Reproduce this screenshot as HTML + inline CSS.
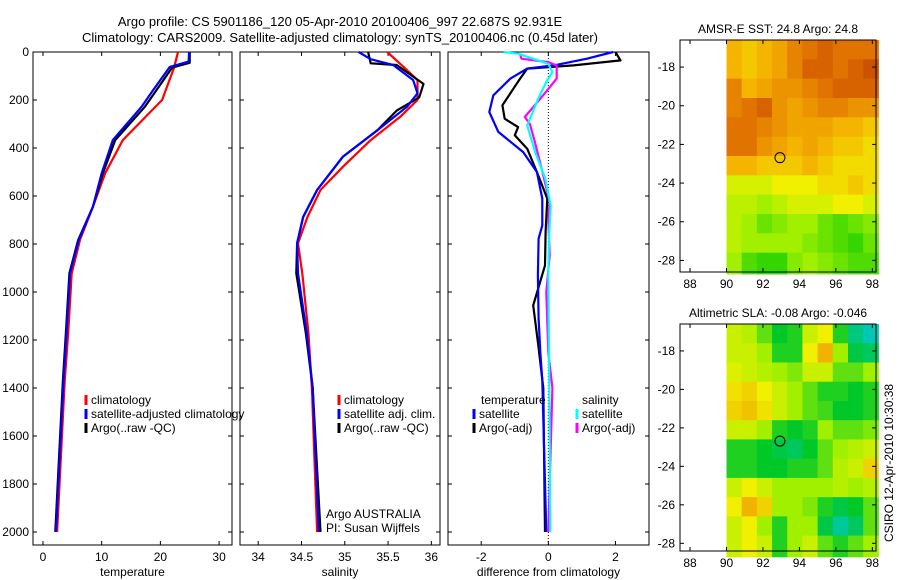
<!DOCTYPE html>
<html><head><meta charset="utf-8"><style>
html,body{margin:0;padding:0;background:#fff;}
svg{display:block;font-family:"Liberation Sans",sans-serif;}
text{font-size:12px;fill:#000;}
</style></head><body>
<svg id="fig" width="900" height="580" viewBox="0 0 900 580">
<text x="340" y="26" text-anchor="middle" style="font-size:13px">Argo profile: CS 5901186_120 05-Apr-2010 20100406_997 22.687S 92.931E</text>
<text x="340" y="42" text-anchor="middle" style="font-size:13px">Climatology: CARS2009. Satellite-adjusted climatology: synTS_20100406.nc (0.45d later)</text>
<text transform="translate(893,463) rotate(-90)" text-anchor="middle">CSIRO 12-Apr-2010 10:30:38</text>
</svg>
<script>
// ---- profile data (depth in dbar) ----
const tClimD=[0,30,67,200,367,505,645,783,922,1170,1370,2000];
const tClimV=[23,22.7,22.3,20.3,13.6,10.6,8.5,6.3,4.9,4.3,3.7,2.4];
const tSatD=[0,40,62,158,228,367,505,645,783,922,1170,1370,2000];
const tSatV=[24.9,24.8,21.6,18.8,16.8,11.9,10.0,8.5,6.1,4.6,4.0,3.5,2.2];
const tArgoD=[0,45,65,160,230,367,505,645,783,922,1170,1370,2000];
const tArgoV=[25.0,25.0,22.0,19.3,17.3,12.3,10.2,8.5,6.0,4.5,3.9,3.4,2.1];
const sClimD=[0,62,117,200,270,367,478,575,687,797,922,1170,1400,2000];
const sClimV=[35.49,35.68,35.84,35.84,35.64,35.3,34.98,34.72,34.57,34.46,34.51,34.58,34.62,34.68];
const sSatD=[0,30,54,117,172,228,325,436,575,687,797,922,1170,1400,2000];
const sSatV=[35.16,35.3,35.56,35.79,35.84,35.72,35.38,34.98,34.68,34.52,34.45,34.46,34.56,34.63,34.70];
const sArgoD=[0,47,54,133,189,244,325,436,575,687,797,922,1170,1400,2000];
const sArgoV=[35.27,35.3,35.6,35.91,35.86,35.6,35.38,34.98,34.68,34.52,34.45,34.44,34.55,34.63,34.72];
const dTSatD=[0,28,56,69,111,181,250,333,417,500,611,722,778,930,1111,1250,1370,2000];
const dTSatV=[1.93,1.15,0.16,-0.63,-1.13,-1.64,-1.76,-1.49,-0.75,-0.34,-0.18,-0.18,-0.29,-0.31,-0.29,-0.24,-0.18,-0.06];
const dTArgoD=[0,35,56,69,111,153,222,278,313,347,403,500,611,750,889,1056,1222,1400,2000];
const dTArgoV=[2.0,2.15,0.75,-0.63,-0.84,-1.04,-1.37,-1.3,-0.9,-1.0,-0.63,-0.34,-0.03,-0.08,-0.1,-0.45,-0.3,-0.15,-0.1];
const dSSatD=[0,7,49,83,125,194,306,417,528,639,778,930,1250,2000];
const dSSatV=[-1.34,-0.9,0,0.12,-0.06,-0.3,-0.63,-0.39,-0.09,0.07,0.02,0.0,0.02,0.06];
const dSArgoD=[10,28,42,56,111,181,271,300,375,486,625,694,847,1000,1250,1400,2000];
const dSArgoV=[-0.84,-0.8,0,0.25,0.25,-0.16,-0.7,-0.55,-0.4,-0.2,0.04,0.0,0.04,-0.06,0.0,0.12,0.0];
// ---- map data (rows lat -17..-28, cols lon 90..98.3) ----
const sstGrid=[
[0.6,0.55,0.6,0.65,0.75,0.8,0.85,0.8,0.8,0.8],
[0.6,0.55,0.6,0.65,0.75,0.85,0.85,0.8,0.85,0.9],
[0.75,0.6,0.65,0.7,0.7,0.75,0.8,0.85,0.85,0.85],
[0.75,0.8,0.85,0.7,0.65,0.7,0.75,0.75,0.7,0.7],
[0.8,0.8,0.75,0.7,0.65,0.65,0.65,0.6,0.6,0.55],
[0.8,0.8,0.7,0.65,0.6,0.65,0.6,0.55,0.55,0.5],
[0.6,0.6,0.55,0.55,0.55,0.6,0.55,0.5,0.5,0.5],
[0.4,0.4,0.4,0.45,0.45,0.45,0.5,0.5,0.55,0.5],
[0.35,0.35,0.3,0.35,0.4,0.4,0.4,0.45,0.45,0.4],
[0.35,0.3,0.2,0.25,0.3,0.3,0.2,0.15,0.2,0.25],
[0.35,0.3,0.3,0.3,0.3,0.25,0.2,0.15,0.1,0.2],
[0.3,0.15,0.1,0.1,0.25,0.3,0.25,0.2,0.15,0.15]];
const slaGrid=[
[0.6,0.55,0.4,0.25,0.3,0.6,0.7,0.3,0.1,0.0],
[0.6,0.6,0.5,0.3,0.3,0.7,0.9,0.5,0.2,0.15],
[0.65,0.6,0.55,0.5,0.45,0.6,0.6,0.4,0.4,0.5],
[0.75,0.8,0.7,0.6,0.5,0.4,0.3,0.3,0.25,0.3],
[0.8,0.85,0.75,0.6,0.5,0.4,0.35,0.25,0.25,0.3],
[0.6,0.6,0.5,0.3,0.25,0.3,0.5,0.4,0.4,0.45],
[0.3,0.3,0.25,0.2,0.15,0.25,0.4,0.5,0.55,0.6],
[0.3,0.3,0.25,0.25,0.3,0.3,0.4,0.55,0.6,0.8],
[0.6,0.7,0.6,0.5,0.5,0.5,0.5,0.55,0.5,0.55],
[0.7,0.9,0.8,0.5,0.5,0.45,0.3,0.2,0.25,0.4],
[0.6,0.7,0.5,0.3,0.5,0.5,0.2,0.05,0.15,0.4],
[0.6,0.7,0.6,0.3,0.5,0.6,0.4,0.3,0.4,0.5]];
const depthTicks=[0,200,400,600,800,1000,1200,1400,1600,1800,2000];
const tTicks=[0,10,20,30];
const sTicks=[34,34.5,35,35.5,36];
const dTicks=[-2,0,2];
const lonTicks=[88,90,92,94,96,98];
const latTicks=[-18,-20,-22,-24,-26,-28];

const NS='http://www.w3.org/2000/svg';
const svg=document.getElementById('fig');
function mk(tag,attrs,parent){const e=document.createElementNS(NS,tag);for(const k in attrs)e.setAttribute(k,attrs[k]);(parent||svg).appendChild(e);return e;}
const TOP=52,BOT=545;
const yD=d=>52+d*0.24;

function panel(name,x0,x1,vmin,vmax,ticks,xlabel,showY){
  const xs=v=>x0+(v-vmin)/(vmax-vmin)*(x1-x0);
  const g=mk('g',{});
  
  
  const r=mk('rect',{x:x0,y:TOP,width:x1-x0,height:BOT-TOP,fill:'none',stroke:'#000','stroke-width':1},g);
  
  
  depthTicks.forEach(d=>{
    const y=yD(d);
    mk('line',{x1:x0,x2:x0+4,y1:y,y2:y,stroke:'#000'},g);
    mk('line',{x1:x1-4,x2:x1,y1:y,y2:y,stroke:'#000'},g);
    if(showY){const t=mk('text',{x:x0-4,y:y+4,'text-anchor':'end'},g);t.textContent=d;
      
      }
  });
  ticks.forEach(v=>{
    const x=xs(v);
    mk('line',{x1:x,x2:x,y1:BOT,y2:BOT-4,stroke:'#000'},g);
    mk('line',{x1:x,x2:x,y1:TOP,y2:TOP+4,stroke:'#000'},g);
    const t=mk('text',{x:x,y:561,'text-anchor':'middle'},g);t.textContent=v;
    
    
  });
  const xl=mk('text',{x:(x0+x1)/2,y:576,'text-anchor':'middle'},g);xl.textContent=xlabel;
  
  
  return {g,xs};
}
function line(p,D,V,color,name,w){
  const pts=D.map((d,i)=>p.xs(V[i]).toFixed(1)+','+yD(d).toFixed(1)).join(' ');
  const l=mk('polyline',{points:pts,fill:'none',stroke:color,'stroke-width':w||2.2,'stroke-linejoin':'round'},p.g);
  
  
}
function legend(p,x,y,color,label,name){
  const m=mk('line',{x1:x,x2:x,y1:y-9,y2:y+1,stroke:color,'stroke-width':3},p.g);
  
  
  const t=mk('text',{x:x+5,y:y},p.g);t.textContent=label;
  
  
}
// temperature
const p1=panel('temperature-panel',33,232,-1.7,32.2,tTicks,'temperature',true);
line(p1,tClimD,tClimV,'#ff0000','temp-climatology-line');
line(p1,tArgoD,tArgoV,'#000000','temp-argo-line');
line(p1,tSatD,tSatV,'#0000ff','temp-satellite-line');
legend(p1,86,404,'#ff0000','climatology','legend-climatology');
legend(p1,86,418,'#0000ff','satellite-adjusted climatology','legend-satellite');
legend(p1,86,432,'#000000','Argo(..raw -QC)','legend-argo');
// salinity
const p2=panel('salinity-panel',240,440,33.79,36.1,sTicks,'salinity',false);
line(p2,sClimD,sClimV,'#ff0000','sal-climatology-line');
line(p2,sArgoD,sArgoV,'#000000','sal-argo-line');
line(p2,sSatD,sSatV,'#0000ff','sal-satellite-line');
legend(p2,339,404,'#ff0000','climatology','legend-climatology');
legend(p2,339,418,'#0000ff','satellite adj. clim.','legend-satellite');
legend(p2,339,432,'#000000','Argo(..raw -QC)','legend-argo');
{const t=mk('text',{x:326,y:518},p2.g);t.textContent='Argo AUSTRALIA';


const t2=mk('text',{x:326,y:532},p2.g);t2.textContent='PI: Susan Wijffels';

}
// difference
const p3=panel('difference-panel',448,649,-2.99,3.0,dTicks,'difference from climatology',false);
mk('line',{x1:p3.xs(0),x2:p3.xs(0),y1:TOP,y2:BOT,stroke:'#000','stroke-dasharray':'1,2'},p3.g);
line(p3,dTArgoD,dTArgoV,'#000000','dtemp-argo-line');
line(p3,dTSatD,dTSatV,'#0000ff','dtemp-satellite-line');
line(p3,dSArgoD,dSArgoV,'#ff00ff','dsal-argo-line');
line(p3,dSSatD,dSSatV,'#00ffff','dsal-satellite-line');
{const t=mk('text',{x:481,y:404},p3.g);t.textContent='temperature';


const t2=mk('text',{x:582,y:404},p3.g);t2.textContent='salinity';

}
legend(p3,474,418,'#0000ff','satellite','legend-temp-satellite');
legend(p3,474,432,'#000000','Argo(-adj)','legend-temp-argo');
legend(p3,577,418,'#00ffff','satellite','legend-sal-satellite');
legend(p3,577,432,'#ff00ff','Argo(-adj)','legend-sal-argo');

// maps
function lerpColor(stops,v){
  v=Math.max(0,Math.min(1,v));
  for(let i=1;i<stops.length;i++){if(v<=stops[i][0]){const a=stops[i-1],b=stops[i];const f=(v-a[0])/(b[0]-a[0]);
    return 'rgb('+[1,2,3].map(k=>Math.round(a[k]+(b[k]-a[k])*f)).join(',')+')';}}
  const s=stops[stops.length-1];return 'rgb('+s[1]+','+s[2]+','+s[3]+')';
}
const sstStops=[[0,0,200,0],[0.3,160,240,0],[0.45,240,240,0],[0.6,245,180,0],[0.8,225,115,0],[1,180,50,0]];
const slaStops=[[0,0,200,180],[0.25,0,200,40],[0.5,160,240,0],[0.7,240,240,0],[1,240,150,0]];
function map(name,x0,x1,y0,y1,latTop,latBot,grid,stops,title){
  const lonMin=87.45,lonMax=98.2;
  const xs=lo=>x0+(lo-lonMin)/(lonMax-lonMin)*(x1-x0);
  const ys=la=>y0+(latTop-la)/(latTop-latBot)*(y1-y0);
  const g=mk('g',{});
  
  
  const cw=(98.33-90)/grid[0].length;
  grid.forEach((row,ri)=>row.forEach((v,ci)=>{
    const la0=-16.6-ri, la1=ri===grid.length-1?-28.7:-17.6-ri;
    const c=mk('rect',{x:xs(90+ci*cw),y:ys(la0),width:xs(90+(ci+1)*cw)-xs(90+ci*cw)+0.5,height:ys(la1)-ys(la0)+0.5,fill:lerpColor(stops,v)},g);
    
    
  }));
  const fr=mk('rect',{x:x0,y:y0,width:x1-x0,height:y1-y0,fill:'none',stroke:'#000'},g);
  
  
  latTicks.forEach(la=>{const y=ys(la);
    mk('line',{x1:x0,x2:x0+4,y1:y,y2:y,stroke:'#000'},g);mk('line',{x1:x1-4,x2:x1,y1:y,y2:y,stroke:'#000'},g);
    const t=mk('text',{x:x0-5,y:y+4,'text-anchor':'end'},g);t.textContent=la;
    
    });
  lonTicks.forEach(lo=>{const x=xs(lo);
    mk('line',{x1:x,x2:x,y1:y1,y2:y1-4,stroke:'#000'},g);mk('line',{x1:x,x2:x,y1:y0,y2:y0+4,stroke:'#000'},g);
    const t=mk('text',{x:x,y:y1+16,'text-anchor':'middle'},g);t.textContent=lo;
    
    });
  const c=mk('circle',{cx:xs(92.931),cy:ys(-22.687),r:5,fill:'none',stroke:'#000','stroke-width':1},g);
  
  
  const t=mk('text',{x:(x0+x1)/2,y:y0-7,'text-anchor':'middle'},g);t.textContent=title;
  
  
}
map('sst-map',680,876,40,272,-16.6,-28.6,sstGrid,sstStops,'AMSR-E SST: 24.8 Argo: 24.8');
map('sla-map',680,876,324,551,-16.6,-28.4,slaGrid,slaStops,'Altimetric SLA: -0.08 Argo: -0.046');
</script>
</body></html>
